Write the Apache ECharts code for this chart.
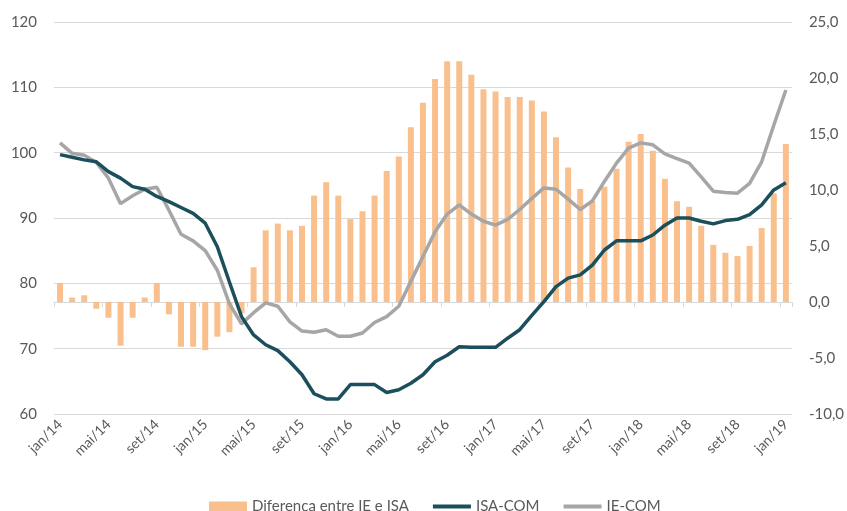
<!DOCTYPE html>
<html>
<head>
<meta charset="utf-8">
<script src="https://cdn.jsdelivr.net/npm/echarts@6/dist/echarts.min.js"></script>
<style>
html,body{margin:0;padding:0;background:#fff;}
#chart{width:847px;height:511px;}
</style>
</head>
<body>
<div id="chart"></div>
<script>
const monthNames = ['jan','fev','mar','abr','mai','jun','jul','ago','set','out','nov','dez'];
const categories = [];
for (let y = 14; y <= 19; y++) {
  for (let m = 0; m < 12; m++) {
    if (y === 19 && m > 0) break;
    categories.push(monthNames[m] + '/' + y);
  }
}

const diferenca = [
  1.7, 0.4, 0.6, -0.6, -1.4, -3.9, -1.4, 0.4, 1.7, -1.1,
  -4.0, -4.0, -4.3, -3.1, -2.7, -1.0, 3.1, 6.4, 7.0, 6.4,
  6.8, 9.5, 10.7, 9.5, 7.4, 8.1, 9.5, 11.7, 13.0, 15.6,
  17.8, 19.9, 21.5, 21.5, 20.3, 19.0, 18.8, 18.3, 18.3, 18.0,
  17.0, 14.7, 12.0, 10.1, 9.0, 10.3, 11.9, 14.3, 15.0, 13.5,
  11.0, 9.0, 8.5, 6.8, 5.1, 4.4, 4.1, 5.0, 6.6, 9.7,
  14.1
];

const isaCom = [
  99.7, 99.3, 98.9, 98.6, 97.1, 96.1, 94.8, 94.4, 93.3, 92.5,
  91.6, 90.7, 89.2, 85.6, 80.2, 74.9, 72.1, 70.6, 69.7, 68.0,
  66.0, 63.1, 62.3, 62.3, 64.5, 64.5, 64.5, 63.3, 63.7, 64.7,
  66.0, 68.0, 69.0, 70.3, 70.2, 70.2, 70.2, 71.6, 72.9, 75.1,
  77.2, 79.5, 80.8, 81.3, 82.8, 85.1, 86.5, 86.5, 86.5, 87.4,
  88.9, 90.0, 90.0, 89.5, 89.1, 89.6, 89.8, 90.5, 92.0, 94.3,
  95.4
];

const ieCom = [
  101.5, 99.9, 99.6, 98.5, 96.1, 92.2, 93.4, 94.4, 94.7, 91.2,
  87.5, 86.5, 85.0, 82.0, 76.9, 73.8, 75.5, 77.0, 76.5, 74.1,
  72.7, 72.5, 72.9, 71.9, 71.9, 72.4, 74.0, 74.9, 76.5, 80.3,
  84.1, 87.9, 90.6, 92.0, 90.6, 89.5, 88.9, 89.8, 91.3, 93.0,
  94.6, 94.4, 92.9, 91.3, 92.6, 95.6, 98.4, 100.7, 101.5, 101.2,
  99.8, 99.1, 98.4, 96.3, 94.1, 93.9, 93.8, 95.3, 98.6, 104.2,
  109.6
];

const leftTicks = {min: 60, max: 120, interval: 10};
const rightTicks = {min: -10, max: 25, interval: 5};

const FONT = 'Lato';
const TXT = '#595959';
const BAR = '#F9C08E';
const DARK = '#1C4F5C';
const GRAY = '#A6A6A6';

const chart = echarts.init(document.getElementById('chart'), null, {renderer: 'canvas'});
chart.setOption({
  animation: false,
  backgroundColor: '#ffffff',
  textStyle: {fontFamily: FONT},
  grid: {left: 54, right: 54, top: 22, bottom: 97, containLabel: false},
  legend: {
    left: 204,
    top: 494,
    itemGap: 22,
    itemWidth: 38,
    itemHeight: 10,
    textStyle: {fontFamily: FONT, fontSize: 15, color: TXT},
    data: [
      {name: 'Diferença entre IE e ISA', icon: 'rect'},
      {name: 'ISA-COM', itemStyle: {color: 'rgba(0,0,0,0)', borderWidth: 0, opacity: 0}, lineStyle: {width: 4, color: DARK}},
      {name: 'IE-COM', itemStyle: {color: 'rgba(0,0,0,0)', borderWidth: 0, opacity: 0}, lineStyle: {width: 4, color: GRAY}}
    ]
  },
  xAxis: {
    type: 'category',
    data: categories,
    boundaryGap: true,
    axisLine: {show: true, lineStyle: {color: '#D9D9D9', width: 1}},
    axisTick: {show: true, interval: 3, length: 5, lineStyle: {color: '#D9D9D9'}},
    axisLabel: {
      interval: 3, rotate: 45, margin: 8,
      fontFamily: FONT, fontSize: 14, color: TXT
    },
    splitLine: {show: false}
  },
  yAxis: [
    {
      type: 'value',
      min: leftTicks.min, max: leftTicks.max, interval: leftTicks.interval,
      position: 'left',
      axisLine: {show: false},
      axisTick: {show: false},
      axisLabel: {margin: 17, fontFamily: FONT, fontSize: 15, color: TXT},
      splitLine: {show: true, lineStyle: {color: '#D9D9D9', width: 1}}
    },
    {
      type: 'value',
      min: rightTicks.min, max: rightTicks.max, interval: rightTicks.interval,
      position: 'right',
      axisLine: {show: false},
      axisTick: {show: false},
      axisLabel: {
        margin: 17, fontFamily: FONT, fontSize: 15, color: TXT,
        formatter: v => v.toFixed(1).replace('.', ',')
      },
      splitLine: {show: false}
    }
  ],
  series: [
    {
      name: 'Diferença entre IE e ISA',
      type: 'bar',
      yAxisIndex: 1,
      data: diferenca,
      barWidth: 6,
      itemStyle: {color: BAR},
      z: 1
    },
    {
      name: 'ISA-COM',
      type: 'line',
      yAxisIndex: 0,
      data: isaCom,
      symbol: 'none',
      lineStyle: {color: DARK, width: 3.5},
      itemStyle: {color: DARK},
      z: 3
    },
    {
      name: 'IE-COM',
      type: 'line',
      yAxisIndex: 0,
      data: ieCom,
      symbol: 'none',
      lineStyle: {color: GRAY, width: 3.5},
      itemStyle: {color: GRAY},
      z: 2
    }
  ]
});
</script>
</body>
</html>
